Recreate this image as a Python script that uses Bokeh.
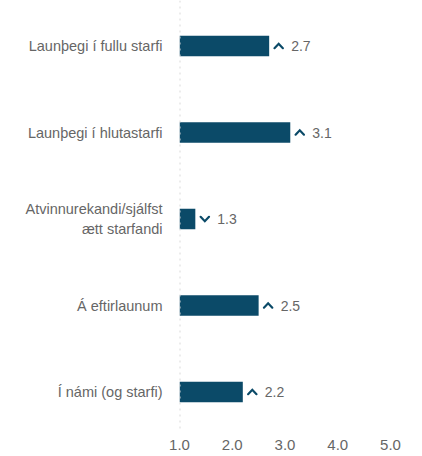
from bokeh.plotting import figure
from bokeh.models import Range1d, Span, FixedTicker, ColumnDataSource
from bokeh.core.properties import value
from bokeh.embed import file_html
from bokeh.resources import INLINE

categories = ["Launþegi í fullu starfi", "Launþegi í hlutastarfi",
              "Atvinnurekandi/sjálfst\nætt starfandi", "Á eftirlaunum",
              "Í námi (og starfi)"]
values = [2.7, 3.1, 1.3, 2.5, 2.2]
directions = ["up", "up", "down", "up", "up"]
x_ticks = [1, 2, 3, 4, 5]
x_tick_labels = ["1.0", "2.0", "3.0", "4.0", "5.0"]

BAR = "#0b4a68"
TXT = "#666666"
FONT = "Liberation Sans"

W, H = 410, 452
LEFT, RIGHT, BOTTOM = 179, 20, 22
PX_PER_Y = 86.5
top_center = 45.5
frame_h = H - BOTTOM
y_top = -top_center / PX_PER_Y
y_bottom = (frame_h - top_center) / PX_PER_Y

x_start, x_end = 1.0, 5.0
frame_w = W - LEFT - RIGHT
px_per_x = frame_w / (x_end - x_start)

p = figure(width=W, height=H, output_backend="svg", toolbar_location=None,
           x_range=Range1d(x_start, x_end), y_range=Range1d(y_bottom, y_top),
           min_border_left=LEFT, min_border_right=RIGHT,
           min_border_bottom=BOTTOM, min_border_top=0)
p.outline_line_color = None
p.xgrid.visible = False
p.ygrid.visible = False
p.background_fill_color = "white"
p.border_fill_color = "white"

ys = list(range(len(categories)))

p.add_layout(Span(location=1.0, dimension="height", line_color="#d9d9d9",
                  line_width=2, line_dash="2 4"))

src = ColumnDataSource(dict(y=ys, right=values, left=[1.0] * len(values)))
p.hbar(y="y", left="left", right="right", height=20.5 / PX_PER_Y,
       source=src, fill_color=BAR, line_color=None)

# chevrons
xs, yl = [], []
dx = 9.5 / px_per_x
hw = 4.2 / px_per_x
hh = 2.2 / PX_PER_Y
for yv, v, d in zip(ys, values, directions):
    cx = v + dx
    if d == "up":
        xs.append([cx - hw, cx, cx + hw])
        yl.append([yv + hh, yv - hh, yv + hh])
    else:
        xs.append([cx - hw, cx, cx + hw])
        yl.append([yv - hh, yv + hh, yv - hh])
p.multi_line(xs=xs, ys=yl, line_color=BAR, line_width=2.2,
             line_cap="round", line_join="miter")

p.text(x=values, y=ys, text=[f"{v:.1f}" for v in values], x_offset=22,
       text_align="left", text_baseline="middle", text_color=TXT,
       text_font=value(FONT), text_font_size="14px")

p.yaxis.ticker = FixedTicker(ticks=ys)
p.yaxis.major_label_overrides = {i: c for i, c in zip(ys, categories)}
p.yaxis.axis_line_color = None
p.yaxis.major_tick_line_color = None
p.yaxis.minor_tick_line_color = None
p.yaxis.major_label_standoff = 11
p.yaxis.major_label_text_font = FONT
p.yaxis.major_label_text_font_size = "14.5px"
p.yaxis.major_label_text_color = TXT

p.xaxis.ticker = FixedTicker(ticks=x_ticks)
p.xaxis.major_label_overrides = {t: l for t, l in zip(x_ticks, x_tick_labels)}
p.xaxis.axis_line_color = None
p.xaxis.major_tick_line_color = None
p.xaxis.minor_tick_line_color = None
p.xaxis.major_label_standoff = 3
p.xaxis.major_label_text_font = FONT
p.xaxis.major_label_text_font_size = "15px"
p.xaxis.major_label_text_color = TXT

open("out.html", "w").write(file_html(p, INLINE))
